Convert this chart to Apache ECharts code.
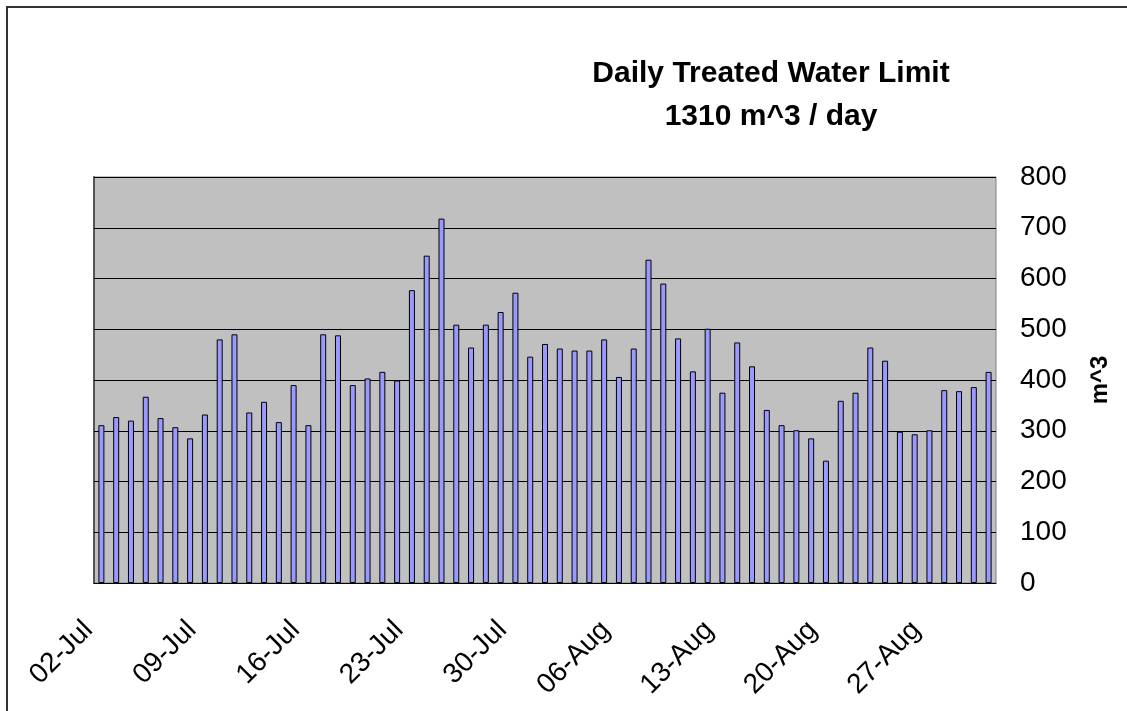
<!DOCTYPE html>
<html>
<head>
<meta charset="utf-8">
<script src="https://cdn.jsdelivr.net/npm/echarts@6/dist/echarts.min.js"></script>
<style>
  html, body { margin: 0; padding: 0; background: #fff; }
  #chart { width: 1127px; height: 711px; }
</style>
</head>
<body>
<div id="chart"></div>
<script>
// daily dates, 02-Jul .. 31-Aug
var days = [
  "02-Jul", "03-Jul", "04-Jul", "05-Jul", "06-Jul", "07-Jul", "08-Jul",
  "09-Jul", "10-Jul", "11-Jul", "12-Jul", "13-Jul", "14-Jul", "15-Jul",
  "16-Jul", "17-Jul", "18-Jul", "19-Jul", "20-Jul", "21-Jul", "22-Jul",
  "23-Jul", "24-Jul", "25-Jul", "26-Jul", "27-Jul", "28-Jul", "29-Jul",
  "30-Jul", "31-Jul", "01-Aug", "02-Aug", "03-Aug", "04-Aug", "05-Aug",
  "06-Aug", "07-Aug", "08-Aug", "09-Aug", "10-Aug", "11-Aug", "12-Aug",
  "13-Aug", "14-Aug", "15-Aug", "16-Aug", "17-Aug", "18-Aug", "19-Aug",
  "20-Aug", "21-Aug", "22-Aug", "23-Aug", "24-Aug", "25-Aug", "26-Aug",
  "27-Aug", "28-Aug", "29-Aug", "30-Aug", "31-Aug"
];

// treated water, m^3 per day
var treated = [
  311, 327, 320, 367, 325, 307, 285,
  332, 480, 490, 336, 357, 317, 390,
  311, 490, 488, 390, 403, 416, 399,
  577, 645, 718, 509, 464, 509, 534,
  572, 446, 471, 462, 458, 458, 480,
  406, 462, 637, 590, 482, 417, 501,
  375, 474, 427, 341, 311, 301, 285,
  241, 359, 375, 464, 438, 298, 293,
  301, 380, 378, 386, 416
];

// labelled ticks, one per week
var weekTicks = ["02-Jul", "09-Jul", "16-Jul", "23-Jul", "30-Jul", "06-Aug", "13-Aug", "20-Aug", "27-Aug"];

var font = "Liberation Sans, Arial, sans-serif";
var chart = echarts.init(document.getElementById("chart"));

var option = {
  animation: false,
  backgroundColor: "#fff",
  title: {
    text: "Daily Treated Water Limit\n1310 m^3 / day",
    left: 766,
    top: 47,
    textAlign: "center",
    textStyle: {
      fontFamily: font,
      fontSize: 30,
      fontWeight: "bold",
      color: "#000",
      lineHeight: 43
    }
  },
  graphic: [
    {
      type: "rect",
      shape: { x: 7, y: 7, width: 1200, height: 800 },
      style: { fill: "none", stroke: "#333", lineWidth: 2 },
      silent: true
    }
  ],
  grid: {
    left: 94,
    right: 131,
    top: 177,
    bottom: 128,
    show: true,
    backgroundColor: "#C0C0C0",
    borderColor: "#808080",
    borderWidth: 1
  },
  xAxis: [
    {
      type: "category",
      data: days,
      boundaryGap: true,
      axisLine: { lineStyle: { color: "#000", width: 1 } },
      axisTick: { interval: 6, length: 9, lineStyle: { color: "#000" } },
      axisLabel: { show: false },
      splitLine: { show: false }
    },
    {
      // week labels sit on the band edges, like the original
      type: "value",
      position: "bottom",
      min: 0,
      max: days.length,
      interval: 7,
      axisLine: { show: false },
      axisTick: { show: false },
      splitLine: { show: false },
      axisLabel: {
        rotate: 45,
        margin: 37,
        padding: [0, 8, 0, 0],
        fontFamily: font,
        fontSize: 28,
        color: "#000",
        showMaxLabel: false,
        formatter: function (v) {
          var k = v / 7;
          return weekTicks[k] || "";
        }
      }
    }
  ],
  yAxis: {
    type: "value",
    position: "right",
    min: 0,
    max: 800,
    interval: 100,
    name: "m^3",
    nameLocation: "middle",
    nameRotate: 90,
    nameGap: 92,
    nameTextStyle: {
      fontFamily: font,
      fontSize: 24,
      fontWeight: "bold",
      color: "#000"
    },
    axisLine: { show: true, lineStyle: { color: "#555", width: 2 } },
    axisTick: { show: true, length: 9, lineStyle: { color: "#000" } },
    axisLabel: {
      margin: 24,
      fontFamily: font,
      fontSize: 28,
      color: "#000"
    },
    splitLine: { show: true, lineStyle: { color: "#000", width: 1 } }
  },
  series: [
    {
      name: "Treated water",
      type: "bar",
      xAxisIndex: 0,
      data: treated,
      barWidth: 6,
      itemStyle: {
        color: "#9999FF",
        borderColor: "#000",
        borderWidth: 1
      }
    }
  ]
};

chart.setOption(option);
</script>
</body>
</html>
